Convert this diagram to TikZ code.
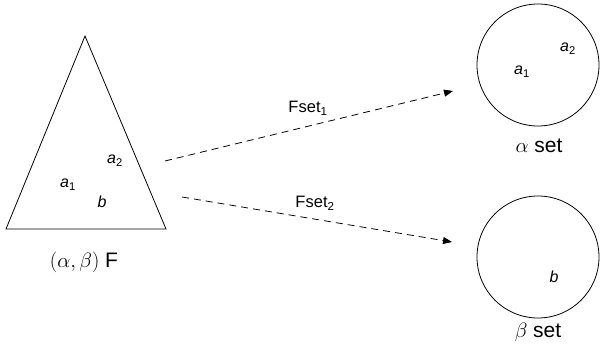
\documentclass[tikz,border=0pt]{standalone}
\usepackage{fontspec}
\setmainfont{Liberation Sans}
\usetikzlibrary{arrows.meta,positioning,calc}
\tikzset{
  setcircle/.style={draw, circle, line width=0.8pt, minimum size=122pt, inner sep=0pt},
  maplink/.style={draw, line width=0.8pt, dash pattern=on 7pt off 5pt, -{Triangle[length=9pt,width=7pt]}},
  elem/.style={font=\fontsize{16}{19}\selectfont, inner sep=0pt, anchor=base},
  biglabel/.style={font=\fontsize{21}{25}\selectfont, inner sep=0pt, anchor=base},
  linklabel/.style={font=\fontsize{16.5}{19}\selectfont, inner sep=0pt, anchor=base}
}

\begin{document}
\begin{tikzpicture}[x=1pt,y=-1pt]
\useasboundingbox (0,0) rectangle (600,344);
% family F
\coordinate (apex) at (85,36);
\coordinate (baseL) at (6,229);
\coordinate (baseR) at (166,229);
\draw[line width=0.8pt] (apex) -- (baseL) -- (baseR) -- cycle;
\node[elem] (fa2) at (115,164) {\textit{a}\textsubscript{2}};
\node[elem] (fa1) at (68,188) {\textit{a}\textsubscript{1}};
\node[elem] (fb) at (102,208) {\textit{b}};
\node[biglabel] (flabel) at (84,268) {$(\alpha,\beta)$ F};

% the two sets
\node[setcircle] (alphaset) at (538,65) {};
\node[elem] (sa1) at (522,75) {\textit{a}\textsubscript{1}};
\node[elem] (sa2) at (568,52) {\textit{a}\textsubscript{2}};
\node[biglabel] (alphalabel) at (539,153) {$\alpha$ set};

\node[setcircle] (betaset) at (538,257) {};
\node[elem] (sb) at (554,283) {\textit{b}};
\node[biglabel] (betalabel) at (538,338) {$\beta$ set};

% mappings
\coordinate (f1start) at (165,161);
\coordinate (f1end) at (453,91);
\coordinate (f2start) at (182,197);
\coordinate (f2end) at (452,242);
\draw[maplink] (f1start) -- (f1end);
\draw[maplink] (f2start) -- (f2end);
\node[linklabel] (fset1) at (308,113) {Fset\textsubscript{1}};
\node[linklabel] (fset2) at (315,208) {Fset\textsubscript{2}};
\end{tikzpicture}
\end{document}
